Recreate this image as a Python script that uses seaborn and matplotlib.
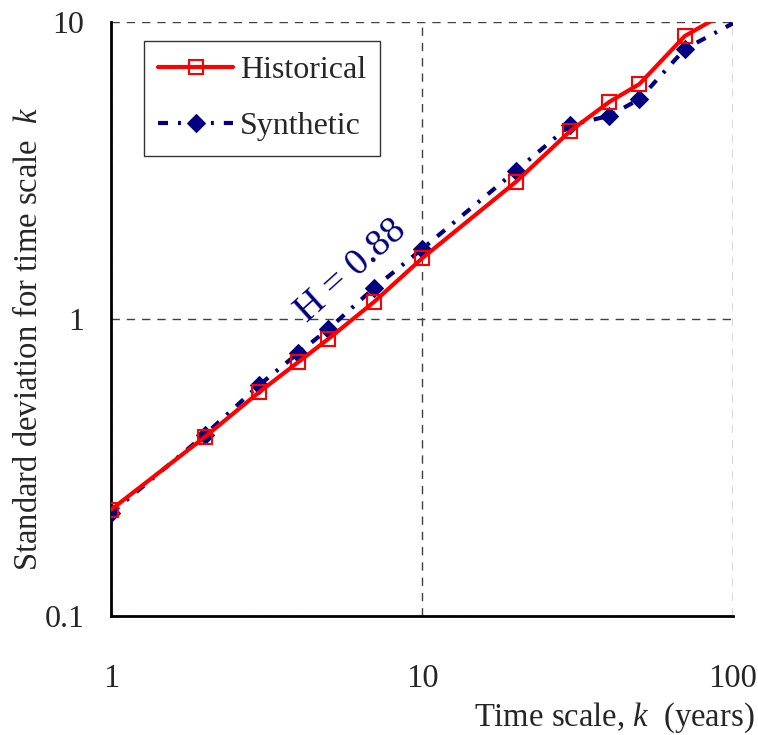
import matplotlib
matplotlib.use("Agg")
import matplotlib.pyplot as plt
import seaborn as sns
import pandas as pd
import numpy as np

# Data
k_hist = [1, 2, 3, 4, 5, 7, 10, 20, 30, 40, 50, 70, 100]
sd_hist = [0.228, 0.40, 0.568, 0.716, 0.857, 1.14, 1.60, 2.89, 4.30, 5.38, 6.18, 8.97, 11.1]
k_syn = [1, 2, 3, 4, 5, 7, 10, 20, 30, 40, 50, 70, 100]
sd_syn = [0.222, 0.407, 0.60, 0.768, 0.925, 1.27, 1.72, 3.15, 4.50, 4.83, 5.50, 8.11, 9.9]
x_ticks = [1, 10, 100]
x_ticklabels = ["1", "10", "100"]
y_ticks = [0.1, 1, 10]
y_ticklabels = ["0.1", "1", "10"]
annotation = "H = 0.88"

sns.set_style("white")
plt.rcParams['font.family'] = ['Liberation Serif', 'DejaVu Serif']
plt.rcParams['mathtext.fontset'] = 'custom'
plt.rcParams['mathtext.rm'] = 'Liberation Serif'
plt.rcParams['mathtext.it'] = 'Liberation Serif:italic'

fig = plt.figure(figsize=(7.58, 7.35), dpi=100)
ax = fig.add_axes([111/758, 1-616/735, (733-111)/758, (616-22)/735])

df_h = pd.DataFrame({"k": k_hist, "sd": sd_hist})
df_s = pd.DataFrame({"k": k_syn, "sd": sd_syn})

sns.lineplot(data=df_s, x="k", y="sd", ax=ax, color="#000080", lw=3,
             marker="D", markersize=9.5, markeredgecolor="#000080",
             markevery=list(range(len(k_syn) - 1)), label="Synthetic", zorder=3)
sns.lineplot(data=df_h, x="k", y="sd", ax=ax, color="#ff0000", lw=3,
             marker="s", markersize=10, markerfacecolor="none",
             markeredgecolor="#ff0000", markeredgewidth=1.5,
             label="Historical", zorder=4)
ax.lines[0].set_dashes([2.4, 2.4, 0.7, 2.4])

ax.set_xscale("log")
ax.set_yscale("log")
ax.set_xlim(1, 100)
ax.set_ylim(0.1, 10)
ax.set_xticks(x_ticks)
ax.set_xticklabels(x_ticklabels)
ax.set_yticks(y_ticks)
ax.set_yticklabels(y_ticklabels)
ax.minorticks_off()

ax.grid(True, which="major", color="#404040", linestyle=(0, (6, 5)), lw=1)
for s in ["top", "right"]:
    ax.spines[s].set_visible(False)
for s in ["left", "bottom"]:
    ax.spines[s].set_color("black")
    ax.spines[s].set_linewidth(2)

ax.tick_params(axis="x", direction="inout", length=16, width=1, color="#808080",
               labelsize=23.5, pad=26)
ax.tick_params(axis="y", direction="inout", length=16, width=1, color="#808080",
               labelsize=23, pad=11)

ax.set_xlabel(r"Time scale, $k$  (years)", fontsize=23.5)
ax.xaxis.set_label_coords(1.035, -0.142)
ax.xaxis.label.set_ha("right")
ax.set_ylabel(r"Standard deviation for time scale  $k$", fontsize=23.5)
ax.yaxis.set_label_coords(-0.108, 0.466)

ax.text(5.9, 1.45, annotation, rotation=42, color="#000080", fontsize=27.5,
        ha="center", va="center", rotation_mode="anchor")

handles, labels = ax.get_legend_handles_labels()
order = [labels.index("Historical"), labels.index("Synthetic")]
leg = ax.legend([handles[i] for i in order], [labels[i] for i in order],
                loc="upper left", bbox_to_anchor=((144-111)/622, (616-41)/594),
                borderaxespad=0, fontsize=23, handlelength=2.35,
                frameon=True, fancybox=False, edgecolor="black",
                labelspacing=0.85, borderpad=0.45, handletextpad=0.2)
leg.get_frame().set_linewidth(1)

fig.savefig("out.png", dpi=100)
